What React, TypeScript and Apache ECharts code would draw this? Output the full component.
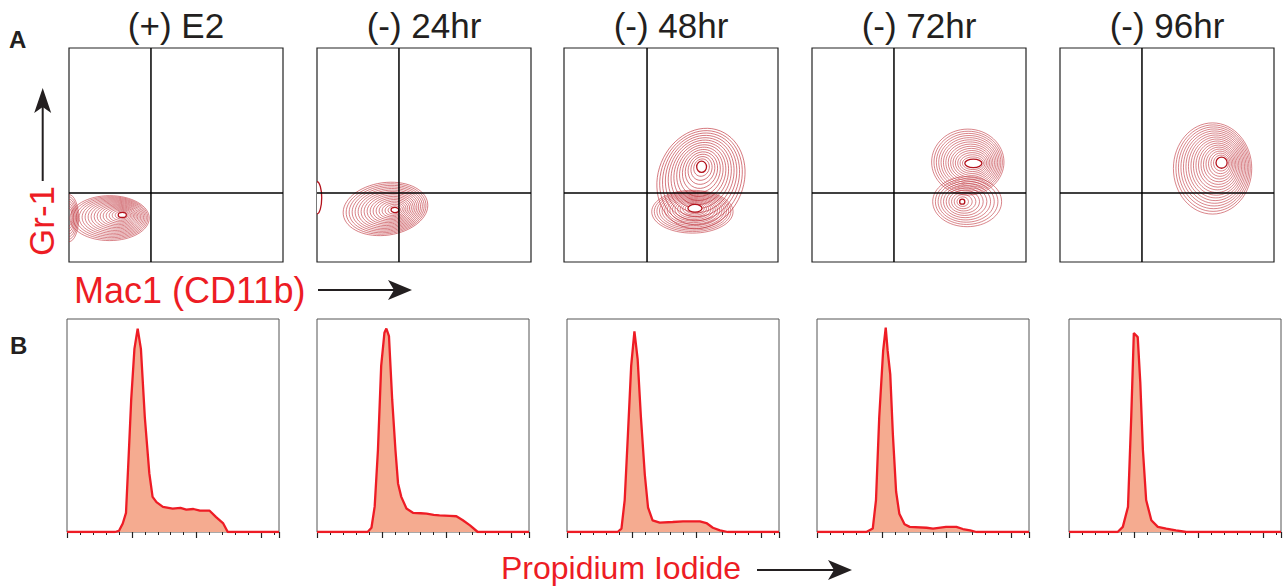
import React, { useEffect, useRef } from 'react';
import * as echarts from 'echarts';

// ---------- Text ----------
const TITLES = ['(+) E2', '(-) 24hr', '(-) 48hr', '(-) 72hr', '(-) 96hr'];
const PANEL_LETTERS = ['A', 'B'];
const Y_LABEL_TOP = 'Gr-1';
const X_LABEL_TOP = 'Mac1 (CD11b)';
const X_LABEL_BOTTOM = 'Propidium Iodide';

// ---------- Layout ----------
const TOP_LEFTS = [69, 317, 564, 812, 1060];
const BOTTOM_LEFTS = [67, 317, 567, 817, 1069];

// ---------- Quadrant gates (fraction of axis) ----------
const QUAD_X = [0.383, 0.383, 0.388, 0.383, 0.383];
const QUAD_Y = [0.322, 0.322, 0.322, 0.322, 0.322];

// ---------- Contour blobs ----------
// [outerCx, outerCy, outerRx, outerRy, rotationDeg, coreCx, coreCy, coreRx, coreRy, rings, drawCore]
const CONTOUR_E2 = [
  [0.19, 0.205, 0.185, 0.105, 0, 0.249, 0.22, 0.019, 0.012, 16, 1],
  [0.0, 0.205, 0.045, 0.11, 0, 0.0, 0.21, 0.008, 0.03, 7, 0],
];
const CONTOUR_24 = [
  [0.32, 0.248, 0.199, 0.123, 8, 0.364, 0.243, 0.018, 0.012, 16, 1],
  [0.0, 0.3, 0.0, 0.0, 0, 0.0, 0.3, 0.022, 0.075, 0, 1],
];
const CONTOUR_48 = [
  [0.64, 0.39, 0.2, 0.24, -22, 0.643, 0.445, 0.023, 0.026, 14, 1],
  [0.6, 0.235, 0.19, 0.1, 0, 0.612, 0.251, 0.033, 0.018, 14, 1],
];
const CONTOUR_72 = [
  [0.728, 0.467, 0.169, 0.154, 0, 0.754, 0.461, 0.04, 0.02, 14, 1],
  [0.725, 0.282, 0.161, 0.117, 0, 0.702, 0.282, 0.012, 0.012, 10, 1],
];
const CONTOUR_96 = [
  [0.713, 0.437, 0.183, 0.213, 0, 0.755, 0.464, 0.026, 0.026, 17, 1],
];
const CONTOURS = [CONTOUR_E2, CONTOUR_24, CONTOUR_48, CONTOUR_72, CONTOUR_96];

// ---------- Propidium iodide histograms [x (log decades), relative count] ----------
const HIST_E2 = [[0, 0], [0.74, 0], [0.8, 0.005], [0.86, 0.04], [0.91, 0.09], [0.95, 0.35], [0.99, 0.62], [1.04, 0.86], [1.09, 0.955], [1.14, 0.86], [1.2, 0.54], [1.27, 0.275], [1.32, 0.165], [1.38, 0.14], [1.48, 0.118], [1.63, 0.11], [1.75, 0.113], [1.84, 0.105], [1.95, 0.108], [2.05, 0.1], [2.2, 0.1], [2.3, 0.07], [2.41, 0.04], [2.48, 0], [3.27, 0]];
const HIST_24 = [[0, 0], [0.78, 0], [0.84, 0.02], [0.89, 0.12], [0.94, 0.385], [0.99, 0.78], [1.04, 0.935], [1.07, 0.955], [1.11, 0.92], [1.16, 0.62], [1.21, 0.385], [1.25, 0.228], [1.3, 0.165], [1.38, 0.11], [1.48, 0.09], [1.6, 0.088], [1.69, 0.086], [1.8, 0.08], [1.89, 0.078], [2.05, 0.076], [2.15, 0.074], [2.25, 0.055], [2.36, 0.031], [2.48, 0], [3.27, 0]];
const HIST_48 = [[0, 0], [0.78, 0], [0.84, 0.016], [0.89, 0.15], [0.94, 0.46], [0.99, 0.78], [1.04, 0.942], [1.09, 0.81], [1.14, 0.54], [1.2, 0.27], [1.25, 0.115], [1.32, 0.055], [1.43, 0.044], [1.63, 0.047], [1.79, 0.05], [2.05, 0.05], [2.15, 0.042], [2.25, 0.02], [2.36, 0.008], [2.48, 0], [3.27, 0]];
const HIST_72 = [[0, 0], [0.76, 0], [0.86, 0.016], [0.91, 0.15], [0.96, 0.54], [1.02, 0.85], [1.06, 0.96], [1.09, 0.85], [1.13, 0.74], [1.17, 0.46], [1.22, 0.19], [1.27, 0.086], [1.35, 0.036], [1.43, 0.024], [1.69, 0.02], [1.79, 0.016], [1.99, 0.024], [2.15, 0.024], [2.25, 0.014], [2.36, 0.008], [2.46, 0], [3.27, 0]];
const HIST_96 = [[0, 0], [0.75, 0], [0.83, 0.024], [0.91, 0.118], [0.96, 0.54], [1.0, 0.934], [1.03, 0.925], [1.06, 0.915], [1.1, 0.7], [1.14, 0.385], [1.19, 0.15], [1.27, 0.055], [1.37, 0.024], [1.5, 0.016], [1.65, 0.008], [1.81, 0], [3.27, 0]];
const HISTS = [HIST_E2, HIST_24, HIST_48, HIST_72, HIST_96];
const HIST_X_MAX = 3.27;

const RED = '#ed1c24';
const DARK = '#231f20';
const FONT = '"Liberation Sans", Arial, Helvetica, sans-serif';

function arrowHead(tip: number[], dir: 'up' | 'right', len: number, half: number, notch: number) {
  if (dir === 'up') {
    return [[tip[0], tip[1]], [tip[0] - half, tip[1] + len], [tip[0], tip[1] + len - notch], [tip[0] + half, tip[1] + len]];
  }
  return [[tip[0], tip[1]], [tip[0] - len, tip[1] - half], [tip[0] - len + notch, tip[1]], [tip[0] - len, tip[1] + half]];
}

function txt(x: number, y: number, text: string, size: number, color: string, align: string, weight = 'normal', rotation = 0) {
  return {
    type: 'text', x, y, rotation,
    style: { text, fill: color, fontSize: size, fontFamily: FONT, fontWeight: weight, textAlign: align, textVerticalAlign: 'middle' },
  };
}

export default function App() {
  const ref = useRef<HTMLDivElement>(null);

  useEffect(() => {
    document.body.style.margin = '0';
    const chart = echarts.init(ref.current!, undefined, { renderer: 'svg' });

    const grids: any[] = [];
    const xAxes: any[] = [];
    const yAxes: any[] = [];
    const series: any[] = [];

    for (let i = 0; i < 5; i++) {
      grids.push({ left: TOP_LEFTS[i], top: 48, width: 214, height: 214, show: true, borderColor: '#222', borderWidth: 1.2, backgroundColor: 'transparent' });
      xAxes.push({ gridIndex: i, type: 'value', min: 0, max: 1, show: false });
      yAxes.push({ gridIndex: i, type: 'value', min: 0, max: 1, show: false });
    }
    for (let i = 0; i < 5; i++) {
      grids.push({ left: BOTTOM_LEFTS[i], top: 319, width: 212, height: 213, show: true, borderColor: '#555', borderWidth: 1 });
      xAxes.push({
        gridIndex: 5 + i, type: 'value', min: 0, max: HIST_X_MAX, interval: 1,
        axisLine: { show: false },
        axisTick: { show: true, length: 6, lineStyle: { color: '#222', width: 1.2 } },
        minorTick: { show: true, splitNumber: 5, length: 3, lineStyle: { color: '#222', width: 1 } },
        axisLabel: { show: false }, splitLine: { show: false }, minorSplitLine: { show: false },
      });
      yAxes.push({ gridIndex: 5 + i, type: 'value', min: 0, max: 1, show: false });
    }

    for (let i = 0; i < 5; i++) {
      const blobs = CONTOURS[i];
      series.push({
        type: 'custom',
        xAxisIndex: i,
        yAxisIndex: i,
        clip: true,
        silent: true,
        data: blobs.map((b) => [b[0], b[1]]),
        encode: { x: 0, y: 1 },
        renderItem: (params: any, api: any) => {
          const b = blobs[params.dataIndex];
          const children: any[] = [];
          const n = b[9];
          const rot = (b[4] * Math.PI) / 180;
          for (let k = 0; k < n; k++) {
            const L = (n - k) / n;
            const cx = b[5] + (b[0] - b[5]) * L;
            const cy = b[6] + (b[1] - b[6]) * L;
            const rx = b[7] + (b[2] - b[7]) * L;
            const ry = b[8] + (b[3] - b[8]) * L;
            const p = api.coord([cx, cy]);
            const s = api.size([rx, ry]);
            children.push({
              type: 'ellipse', x: p[0], y: p[1], rotation: rot,
              shape: { cx: 0, cy: 0, rx: s[0], ry: s[1] },
              style: { fill: 'none', stroke: 'rgba(192,52,60,0.8)', lineWidth: 0.75 },
            });
          }
          if (b[10]) {
            const p = api.coord([b[5], b[6]]);
            const s = api.size([b[7], b[8]]);
            children.push({
              type: 'ellipse', x: p[0], y: p[1],
              shape: { cx: 0, cy: 0, rx: s[0], ry: s[1] },
              style: { fill: '#fff', stroke: '#b3121c', lineWidth: 1.3 },
            });
          }
          return { type: 'group', children };
        },
      });
      series.push({
        type: 'line', xAxisIndex: i, yAxisIndex: i, symbol: 'none', silent: true,
        data: [[QUAD_X[i], 0], [QUAD_X[i], 1]],
        lineStyle: { color: '#000', width: 1.5 }, z: 5,
      });
      series.push({
        type: 'line', xAxisIndex: i, yAxisIndex: i, symbol: 'none', silent: true,
        data: [[0, QUAD_Y[i]], [1, QUAD_Y[i]]],
        lineStyle: { color: '#000', width: 1.5 }, z: 5,
      });
    }

    for (let i = 0; i < 5; i++) {
      series.push({
        type: 'line', xAxisIndex: 5 + i, yAxisIndex: 5 + i, symbol: 'none', silent: true,
        data: HISTS[i],
        lineStyle: { color: '#ee1c25', width: 2.3 },
        areaStyle: { color: '#f5ab90', opacity: 1 },
        z: 3,
      });
    }

    const graphics: any[] = [];
    TITLES.forEach((t, i) => {
      graphics.push(txt(TOP_LEFTS[i] + 107, 25, t, 35, DARK, 'center'));
    });
    graphics.push(txt(9, 39, PANEL_LETTERS[0], 24, DARK, 'left', 'bold'));
    graphics.push(txt(10, 345, PANEL_LETTERS[1], 24, DARK, 'left', 'bold'));

    // Gr-1 label + arrow
    graphics.push(txt(41, 221, Y_LABEL_TOP, 35, RED, 'center', 'normal', Math.PI / 2));
    graphics.push({ type: 'line', shape: { x1: 42.7, y1: 181, x2: 42.7, y2: 105 }, style: { stroke: DARK, lineWidth: 2 } });
    graphics.push({ type: 'polygon', shape: { points: arrowHead([42.7, 88], 'up', 25, 8.5, 6) }, style: { fill: DARK } });

    // Mac1 label + arrow
    graphics.push(txt(74, 290, X_LABEL_TOP, 36, RED, 'left'));
    graphics.push({ type: 'line', shape: { x1: 318, y1: 290, x2: 396, y2: 290 }, style: { stroke: DARK, lineWidth: 2 } });
    graphics.push({ type: 'polygon', shape: { points: arrowHead([412, 290], 'right', 24, 10, 6) }, style: { fill: DARK } });

    // Propidium iodide label + arrow
    graphics.push(txt(501, 568, X_LABEL_BOTTOM, 32, RED, 'left'));
    graphics.push({ type: 'line', shape: { x1: 757, y1: 570, x2: 836, y2: 570 }, style: { stroke: DARK, lineWidth: 2 } });
    graphics.push({ type: 'polygon', shape: { points: arrowHead([852, 570], 'right', 24, 10, 6) }, style: { fill: DARK } });

    chart.setOption({
      animation: false,
      backgroundColor: '#fff',
      grid: grids,
      xAxis: xAxes,
      yAxis: yAxes,
      series,
      graphic: graphics,
    });

    return () => chart.dispose();
  }, []);

  return <div ref={ref} style={{ width: 1284, height: 586 }} />;
}
